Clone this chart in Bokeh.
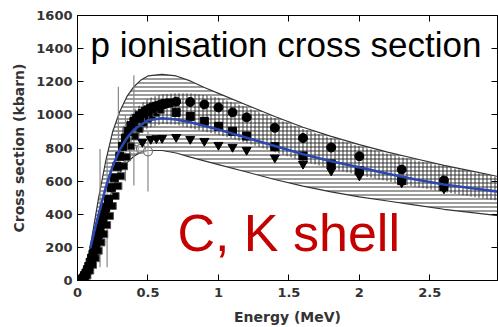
from bokeh.plotting import figure
from bokeh.models import Range1d, LinearAxis, Label, CustomJSTickFormatter
from bokeh.embed import file_html
from bokeh.resources import INLINE

# ---- data ----
theory_E = [0.09, 0.12, 0.15, 0.2, 0.25, 0.3, 0.35, 0.4, 0.5, 0.6, 0.7, 0.8, 1.0,
            1.2, 1.4, 1.6, 1.8, 2.0, 2.2, 2.4, 2.6, 2.8, 3.0]
theory_s = [195, 300, 400, 560, 690, 790, 860, 910, 968, 980, 972, 955, 912,
            862, 812, 762, 720, 683, 645, 610, 580, 557, 535]

outer_E = [0.05, 0.1, 0.15, 0.2, 0.25, 0.3, 0.35, 0.4, 0.45, 0.5, 0.6, 0.7, 0.8,
           0.9, 1.0, 1.2, 1.4, 1.6, 1.8, 2.0, 2.2, 2.4, 2.6, 2.8, 3.0]
outer_hi = [0, 250, 500, 720, 900, 1020, 1110, 1170, 1210, 1235, 1245, 1235, 1205,
            1165, 1130, 1060, 990, 925, 870, 820, 775, 735, 695, 660, 625]
outer_lo = [0, 80, 250, 420, 560, 650, 710, 750, 775, 785, 785, 770, 745,
            722, 700, 655, 610, 570, 535, 505, 480, 455, 430, 410, 390]

inner_E = [0.3, 0.4, 0.5, 0.6, 0.7, 0.8, 0.9, 1.0, 1.2, 1.4, 1.6, 1.8, 2.0,
           2.2, 2.4, 2.6, 2.8, 3.0]
inner_hi = [900, 1030, 1100, 1125, 1130, 1130, 1120, 1105, 1045, 980, 915, 860, 810,
            765, 725, 690, 655, 620]
inner_lo = [700, 860, 920, 945, 940, 920, 900, 880, 830, 775, 720, 675, 635,
            600, 565, 535, 505, 480]

circ_E = [0.7, 0.8, 0.9, 1.0, 1.1, 1.2, 1.4, 1.6, 1.8, 2.0, 2.3, 2.6]
circ_s = [1080, 1078, 1063, 1045, 1015, 985, 922, 860, 803, 750, 670, 604]

sq_E = [0.7, 0.8, 0.9, 1.0, 1.1, 1.2, 1.4, 1.6, 1.8, 2.0, 2.3, 2.6]
sq_s = [1015, 991, 961, 931, 901, 872, 808, 752, 704, 663, 603, 567]

tri_E = [0.46, 0.52, 0.56, 0.6, 0.7, 0.8, 0.9, 1.0, 1.1, 1.2, 1.4, 1.6, 1.8, 2.0, 2.3, 2.6]
tri_s = [836, 854, 858, 860, 866, 854, 842, 818, 806, 788, 742, 704, 663, 633, 591, 555]

low_E = [0.02, 0.03, 0.04, 0.05, 0.06, 0.07, 0.08, 0.09, 0.10, 0.11, 0.12, 0.13,
         0.14, 0.15, 0.16, 0.17, 0.18, 0.19, 0.20, 0.22, 0.24, 0.26, 0.28, 0.30,
         0.32, 0.34, 0.36, 0.38, 0.40, 0.42, 0.44, 0.46, 0.48, 0.50, 0.52, 0.54,
         0.56, 0.58, 0.60, 0.62, 0.65]
low_s = [0, 5, 15, 30, 45, 65, 85, 110, 135, 160, 185, 215,
         245, 280, 315, 345, 375, 405, 440, 490, 560, 620, 690, 750,
         810, 860, 900, 935, 960, 980, 995, 1008, 1020, 1030, 1040, 1047,
         1052, 1058, 1063, 1068, 1072]

low2_E = [0.05, 0.07, 0.09, 0.11, 0.13, 0.15, 0.17, 0.19, 0.21, 0.23, 0.25, 0.27,
          0.29, 0.31, 0.33, 0.35, 0.38, 0.41, 0.44, 0.47, 0.5, 0.53, 0.56, 0.59]
low2_s = [5, 30, 60, 95, 135, 180, 230, 280, 335, 390, 450, 510,
          570, 630, 690, 745, 810, 870, 915, 950, 975, 995, 1012, 1030]

open_E = [0.22, 0.26, 0.3, 0.34, 0.4, 0.45, 0.5]
open_s = [520, 640, 720, 775, 790, 795, 780]

err_E = [0.16, 0.21, 0.29, 0.34, 0.40, 0.50]
err_c = [430, 560, 925, 780, 790, 780]
err_lo = [80, 80, 560, 600, 573, 537]
err_hi = [794, 734, 1170, 1000, 1240, 900]

x_ticks = [0, 0.5, 1, 1.5, 2, 2.5, 3]
y_ticks = [0, 200, 400, 600, 800, 1000, 1200, 1400, 1600]

# ---- figure ----
p = figure(width=498, height=327, output_backend="svg", toolbar_location=None,
           x_range=Range1d(0, 2.98), y_range=Range1d(0, 1600),
           min_border_left=77, min_border_top=15, min_border_bottom=44,
           min_border_right=1, background_fill_color="white",
           border_fill_color="white")
p.grid.visible = False
p.outline_line_color = "black"
p.outline_line_width = 1

# hatched uncertainty bands
p.varea(x=outer_E, y1=outer_lo, y2=outer_hi, fill_alpha=0,
        hatch_pattern="horizontal_line", hatch_scale=4, hatch_weight=1.0,
        hatch_color="#222222", hatch_alpha=0.9)
p.varea(x=inner_E, y1=inner_lo, y2=inner_hi, fill_alpha=0,
        hatch_pattern="vertical_line", hatch_scale=4, hatch_weight=1.0,
        hatch_color="#222222", hatch_alpha=0.9)
p.line(outer_E, outer_hi, line_color="#333333", line_width=1.2)
p.line(outer_E, outer_lo, line_color="#333333", line_width=1.2)

# error bars
p.segment(x0=err_E, y0=err_lo, x1=err_E, y1=err_hi, line_color="#888888", line_width=1.2)

# data
p.scatter(open_E, open_s, marker="circle", size=9, fill_color="white", fill_alpha=0.3,
          line_color="#777777", line_width=1.2)
p.scatter(low2_E, low2_s, marker="square", size=7, fill_color="black", line_color="#555555")
p.scatter(low_E, low_s, marker="square", size=8, fill_color="black", line_color="black")
p.scatter(circ_E, circ_s, marker="circle", size=9, fill_color="black", line_color="black")
p.scatter(sq_E, sq_s, marker="square", size=8, fill_color="black", line_color="black")
p.scatter(tri_E, tri_s, marker="inverted_triangle", size=9, fill_color="black", line_color="black")

# theory curve
p.line(theory_E, theory_s, line_color="#2a48b0", line_width=2.6)

# axes styling
font = "DejaVu Sans"
for ax in (p.xaxis[0], p.yaxis[0]):
    ax.axis_line_color = "black"
    ax.major_tick_in = 6
    ax.major_tick_out = 0
    ax.minor_tick_in = 3
    ax.minor_tick_out = 0
    ax.major_tick_line_color = "black"
    ax.minor_tick_line_color = "black"
    ax.major_label_text_font = font
    ax.major_label_text_font_style = "bold"
    ax.major_label_text_font_size = "13px"
    ax.major_label_text_color = "#333333"
    ax.axis_label_text_font = font
    ax.axis_label_text_font_style = "bold"
    ax.axis_label_text_font_size = "14px"
    ax.axis_label_text_color = "#333333"

p.xaxis[0].ticker = x_ticks
p.xaxis[0].ticker.num_minor_ticks = 5
p.xaxis[0].major_label_standoff = 7
p.xaxis[0].axis_label = "Energy (MeV)"
p.xaxis[0].axis_label_standoff = 9
p.xaxis[0].major_label_overrides = {0: "0", 1: "1", 2: "2", 3: "3"}

p.yaxis[0].ticker = y_ticks
p.yaxis[0].ticker.num_minor_ticks = 4
p.yaxis[0].major_label_standoff = 5
p.yaxis[0].axis_label = "Cross section (kbarn)"
p.yaxis[0].axis_label_standoff = 6

blank = CustomJSTickFormatter(code="return ''")
top = LinearAxis(ticker=x_ticks, formatter=blank, major_label_text_font_size="6px",
                 major_tick_in=6, major_tick_out=0, minor_tick_in=3, minor_tick_out=0,
                 major_label_standoff=0)
top.ticker.num_minor_ticks = 5
right = LinearAxis(ticker=y_ticks, formatter=blank, major_label_text_font_size="6px",
                   major_tick_in=6, major_tick_out=0, minor_tick_in=3, minor_tick_out=0,
                   major_label_standoff=0)
right.ticker.num_minor_ticks = 4
p.add_layout(top, "above")
p.add_layout(right, "right")

# annotations
p.add_layout(Label(x=0.092, y=1427, text="p ionisation cross section",
                   text_font="Liberation Sans", text_font_size="35px",
                   text_color="black", text_baseline="alphabetic"))
p.add_layout(Label(x=0.709, y=289, text="C, K shell",
                   text_font="Liberation Sans", text_font_size="52px",
                   text_color="#c40000", text_baseline="alphabetic"))

open("out.html", "w").write(file_html(p, INLINE))
